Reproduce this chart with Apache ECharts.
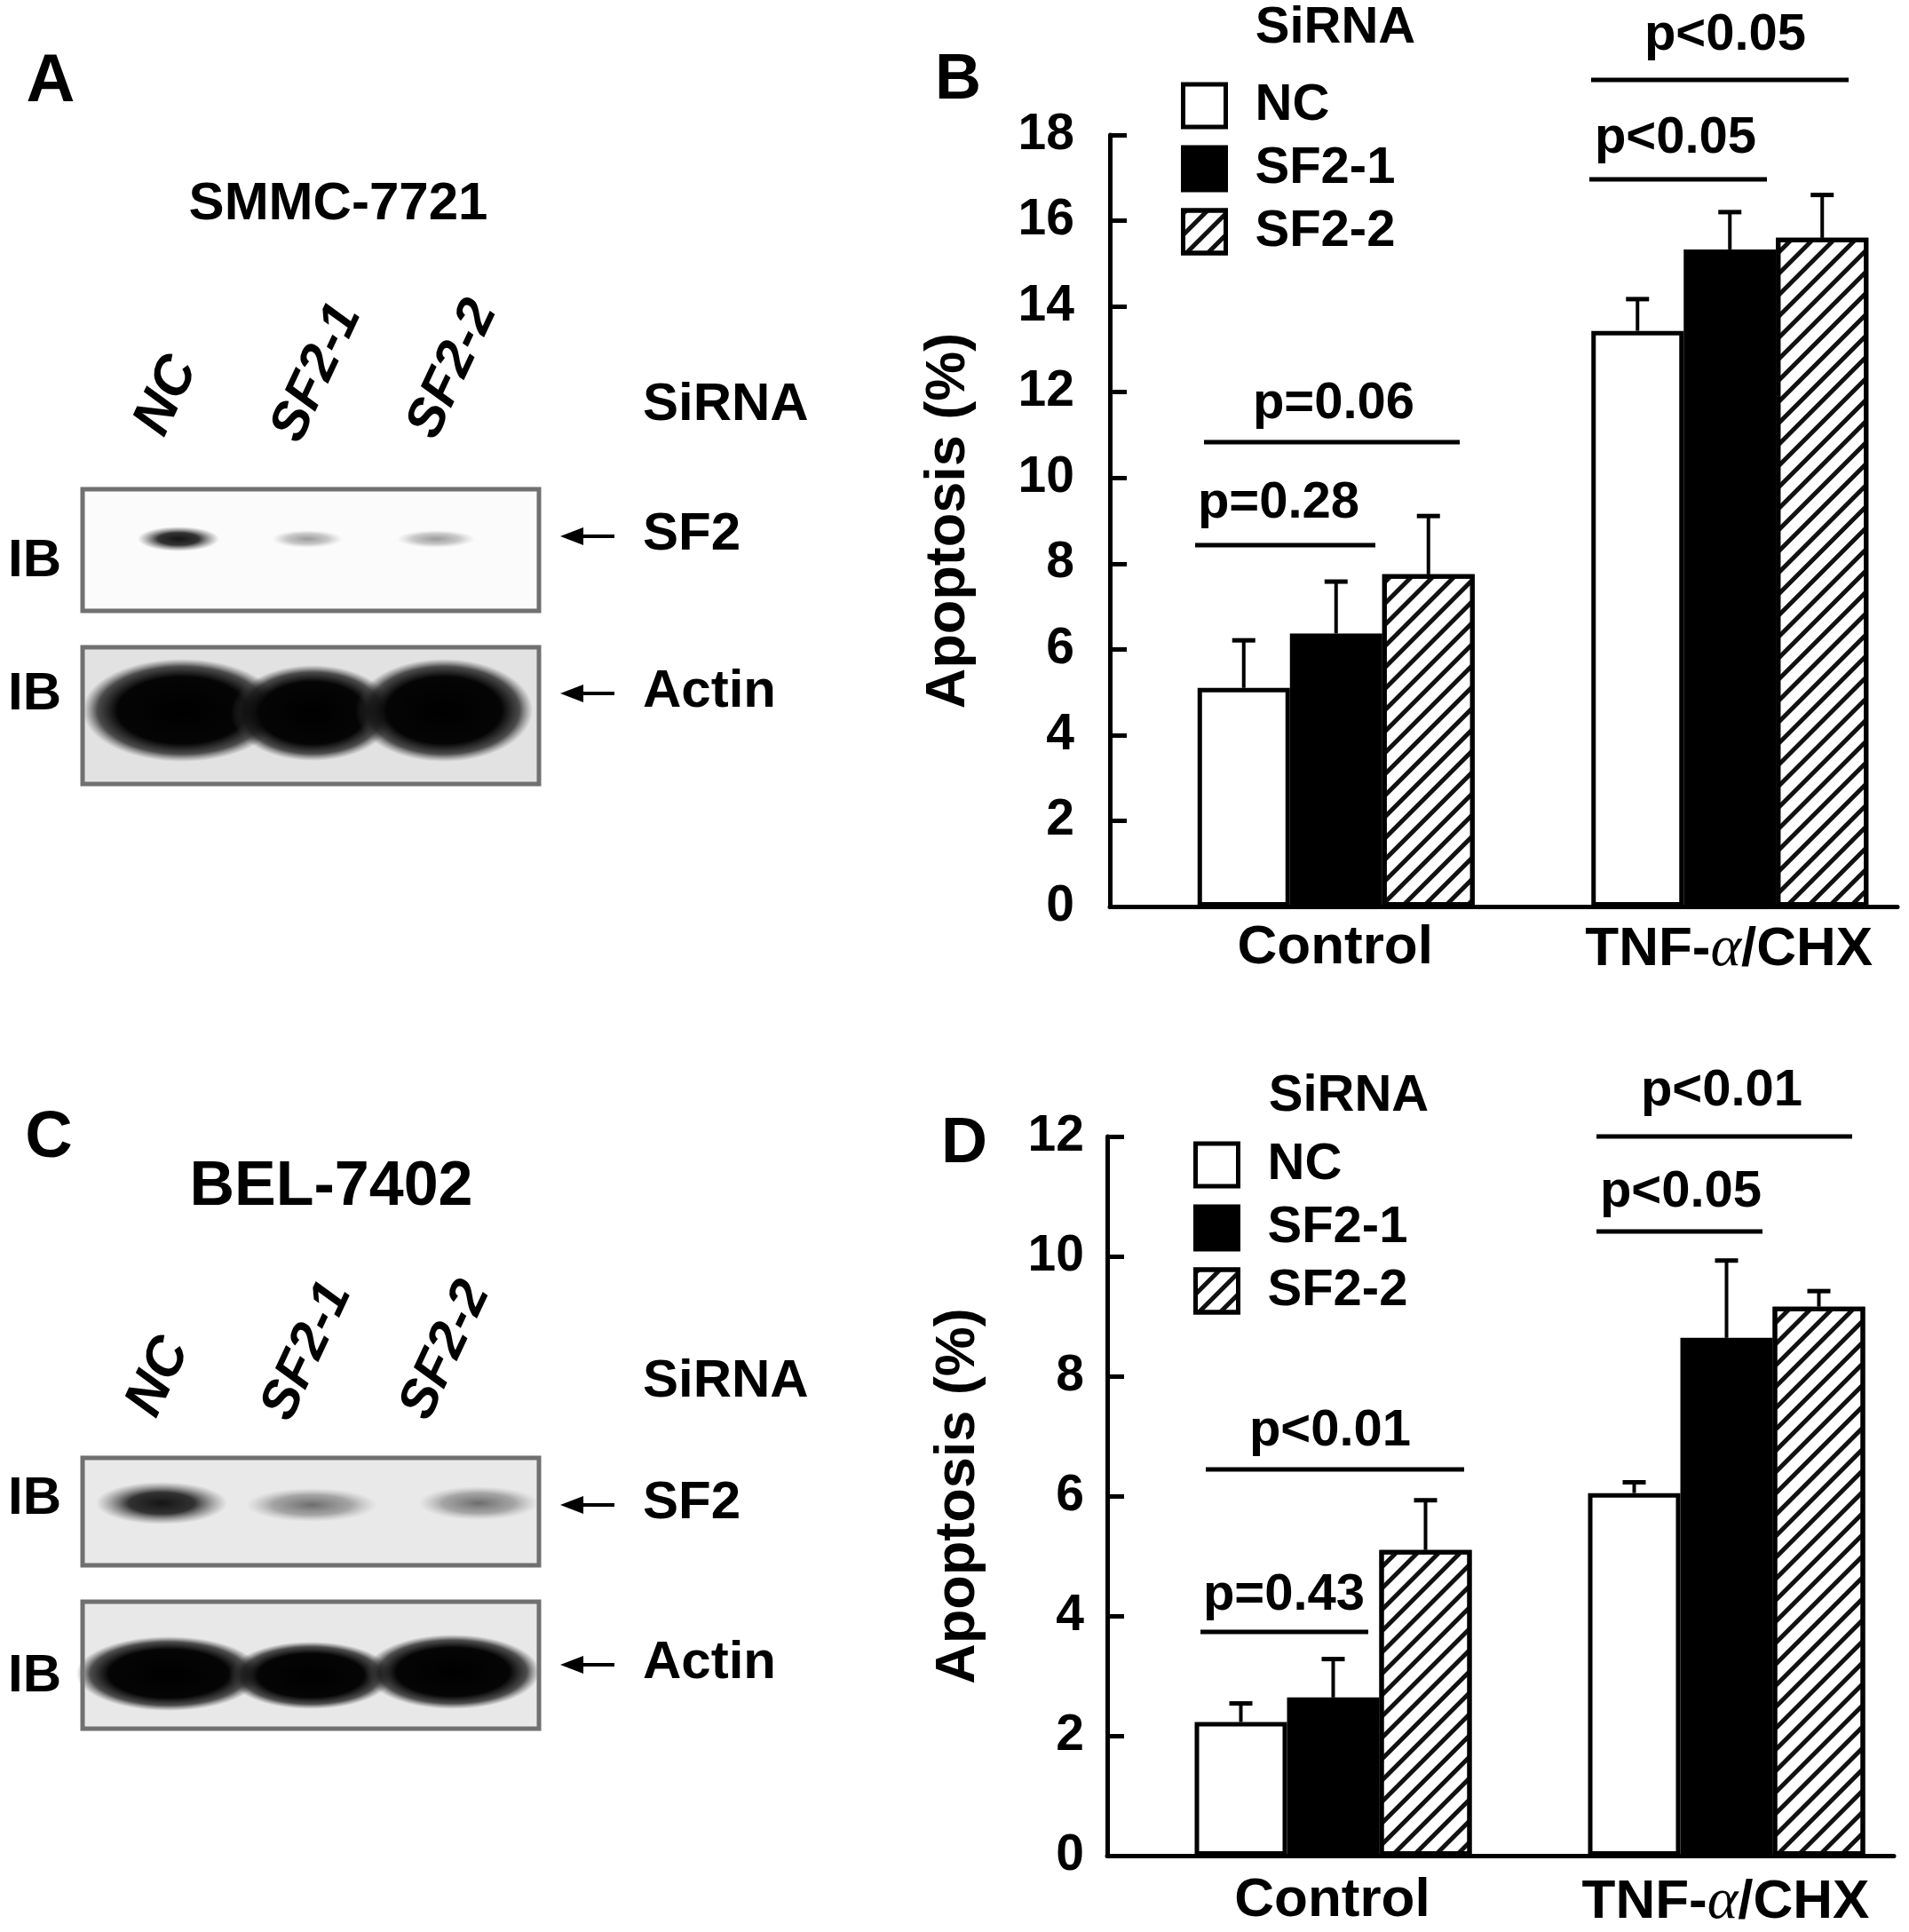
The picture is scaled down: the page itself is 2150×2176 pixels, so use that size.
<!DOCTYPE html>
<html lang="en">
<head>
<meta charset="UTF-8" />
<title>SF2 siRNA apoptosis</title>
<script src="https://cdn.jsdelivr.net/npm/echarts@6/dist/echarts.min.js"></script>
<style>
  html, body { margin: 0; padding: 0; background: #fff; }
  #main { width: 2150px; height: 2176px; }
</style>
</head>
<body>
<div id="main"></div>
<script>
  // values
  var groups = ["Control", "TNF-α/CHX"];
  var sirnas = ["NC", "SF2-1", "SF2-2"];

  // panel B (SMMC-7721): mean and SD
  var smmcNC = [5.1, 13.43];
  var smmcNCErr = [1.11, 0.74];
  var smmcSF21 = [6.37, 15.33];
  var smmcSF21Err = [1.21, 0.87];
  var smmcSF22 = [7.75, 15.6];
  var smmcSF22Err = [1.36, 1.0];

  // panel D (BEL-7402)
  var belNC = [2.23, 6.05];
  var belNCErr = [0.31, 0.18];
  var belSF21 = [2.64, 8.64];
  var belSF21Err = [0.64, 1.29];
  var belSF22 = [5.1, 9.16];
  var belSF22Err = [0.83, 0.26];

  var yMaxB = 18, yMaxD = 12, yStep = 2;

  var F = "Liberation Sans, Arial, Helvetica, sans-serif";
  var BAR_W = 104, SPACER_W = 66;

  var hatch = { symbol: "rect", symbolSize: 1, color: "#111", dashArrayX: [1, 0], dashArrayY: [5, 12], rotation: -Math.PI / 4 };
  var styles = {
    "NC": { color: "#fff", borderColor: "#000", borderWidth: 5 },
    "SF2-1": { color: "#000", borderColor: "#000", borderWidth: 5 },
    "SF2-2": { color: "#fff", borderColor: "#000", borderWidth: 5, decal: hatch }
  };

  // x offset of bar i from the category centre (spacer first, then 3 bars)
  function barOffset(i) {
    var groupW = SPACER_W + 3 * BAR_W;
    return -groupW / 2 + SPACER_W + BAR_W * (i + 0.5);
  }

  function barSeries(name, vals, gi) {
    return {
      name: name, type: "bar", xAxisIndex: gi, yAxisIndex: gi,
      barWidth: BAR_W, barGap: "0%", data: vals,
      itemStyle: styles[name], emphasis: { disabled: true }
    };
  }
  function spacer(gi) {
    return {
      name: "spacer" + gi, type: "bar", xAxisIndex: gi, yAxisIndex: gi,
      barWidth: SPACER_W, barGap: "0%", data: ["-", "-"], silent: true,
      itemStyle: { color: "rgba(0,0,0,0)" }
    };
  }
  function errSeries(i, means, errs, gi) {
    return {
      name: "err" + gi + "-" + i, type: "custom", xAxisIndex: gi, yAxisIndex: gi, z: 5,
      clip: false, silent: true,
      data: means.map(function (m, k) { return [k, m, m + errs[k]]; }),
      renderItem: function (params, api) {
        var base = api.coord([api.value(0), api.value(1)]);
        var top = api.coord([api.value(0), api.value(2)]);
        var x = base[0] + barOffset(i);
        return {
          type: "group",
          children: [
            { type: "line", shape: { x1: x, y1: base[1], x2: x, y2: top[1] }, style: { stroke: "#000", lineWidth: 4 } },
            { type: "line", shape: { x1: x - 13, y1: top[1], x2: x + 13, y2: top[1] }, style: { stroke: "#000", lineWidth: 5 } }
          ]
        };
      }
    };
  }

  function xAxisFor(gi, margin) {
    return {
      type: "category", gridIndex: gi, data: groups,
      axisLine: { lineStyle: { color: "#000", width: 5 } },
      axisTick: { show: false },
      axisLabel: {
        interval: 0, hideOverlap: false,
        color: "#000", fontSize: 62, fontWeight: "bold", fontFamily: F, margin: margin,
        padding: [0, 0, 0, 64],
        formatter: function (v) { return v.replace("α", "{a|α}"); },
        rich: { a: { fontFamily: "Liberation Serif, Times New Roman, serif", fontStyle: "italic", fontWeight: "normal", fontSize: 66, color: "#000" } }
      }
    };
  }
  function yAxisFor(gi, max, margin, gap) {
    return {
      type: "value", gridIndex: gi, min: 0, max: max, interval: yStep,
      axisLine: { show: true, lineStyle: { color: "#000", width: 5 } },
      axisTick: { show: true, inside: true, length: 19, lineStyle: { color: "#000", width: 5 } },
      splitLine: { show: false },
      axisLabel: { color: "#000", fontSize: 57, fontWeight: "bold", fontFamily: F, margin: margin },
      name: "Apoptosis (%)", nameLocation: "middle", nameGap: gap,
      nameTextStyle: { color: "#000", fontSize: 63, fontWeight: "bold", fontFamily: F }
    };
  }
  function legendFor(left, top, gap) {
    return {
      orient: "vertical", left: left, top: top, itemWidth: 48, itemHeight: 48, itemGap: gap,
      selectedMode: false, data: sirnas, icon: "rect",
      itemStyle: { borderColor: "#000", borderWidth: 5 },
      textStyle: { color: "#000", fontSize: 58, fontWeight: "bold", fontFamily: F, lineHeight: 48, padding: [0, 0, 0, 28] }
    };
  }

  // ---- graphic helpers (blots, annotation text) ----
  function txt(x, y, s, size, opt) {
    opt = opt || {};
    return {
      type: "text", x: x, y: y, rotation: opt.rotation || 0,
      style: {
        text: s, fill: "#000", fontSize: size, fontWeight: "bold", fontFamily: F,
        fontStyle: opt.italic ? "italic" : "normal",
        align: opt.align || "center", verticalAlign: "middle",
        textAlign: opt.align || "center", textVerticalAlign: "middle"
      }
    };
  }
  function hline(x1, x2, y) {
    return { type: "line", shape: { x1: x1, y1: y, x2: x2, y2: y }, style: { stroke: "#000", lineWidth: 5 } };
  }
  function arrow(x1, x2, y) {
    return [
      { type: "line", shape: { x1: x1 + 16, y1: y, x2: x2, y2: y }, style: { stroke: "#000", lineWidth: 4 } },
      { type: "polygon", shape: { points: [[x1, y], [x1 + 26, y - 10], [x1 + 26, y + 10]] }, style: { fill: "#000" } }
    ];
  }
  function band(cx, cy, rx, ry, stops) {
    return {
      type: "circle", x: cx, y: cy, scaleX: rx / ry, shape: { cx: 0, cy: 0, r: ry },
      style: { fill: new echarts.graphic.RadialGradient(0.5, 0.5, 0.5, stops) }
    };
  }
  function boxFill(x, y, w, h, fill) {
    return { type: "rect", shape: { x: x, y: y, width: w, height: h }, style: { fill: fill } };
  }
  function boxEdge(x, y, w, h) {
    return { type: "rect", z: 10, shape: { x: x, y: y, width: w, height: h }, style: { fill: "none", stroke: "#707070", lineWidth: 5 } };
  }

  var dark = [
    { offset: 0, color: "#000" }, { offset: 0.65, color: "#050505" },
    { offset: 0.85, color: "rgba(25,25,25,0.75)" }, { offset: 1, color: "rgba(70,70,70,0)" }
  ];
  var strong = [
    { offset: 0, color: "#151515" }, { offset: 0.5, color: "rgba(30,30,30,0.9)" },
    { offset: 1, color: "rgba(90,90,90,0)" }
  ];
  var faint = [
    { offset: 0, color: "rgba(130,130,130,0.8)" }, { offset: 0.6, color: "rgba(150,150,150,0.5)" },
    { offset: 1, color: "rgba(180,180,180,0)" }
  ];
  var medium = [
    { offset: 0, color: "rgba(95,95,95,0.9)" }, { offset: 0.6, color: "rgba(120,120,120,0.6)" },
    { offset: 1, color: "rgba(160,160,160,0)" }
  ];
  var rot = 65 * Math.PI / 180;

  var graphics = [].concat(
    // panel A
    [
      txt(57, 93, "A", 76),
      txt(381, 230, "SMMC-7721", 60),
      txt(188, 446, "NC", 62, { rotation: rot, italic: true }),
      txt(357, 420, "SF2-1", 60, { rotation: rot, italic: true }),
      txt(510, 416, "SF2-2", 60, { rotation: rot, italic: true }),
      txt(724, 456, "SiRNA", 60, { align: "left" }),
      txt(39, 632, "IB", 60), txt(39, 782, "IB", 60),
      txt(724, 602, "SF2", 60, { align: "left" }),
      txt(724, 779, "Actin", 60, { align: "left" }),
      boxFill(93, 551, 514, 137, "#fbfbfb"),
      band(201, 607, 46, 14, strong),
      band(346, 607, 40, 10, faint),
      band(491, 607, 44, 10, faint),
      boxEdge(93, 551, 514, 137),
      boxFill(93, 729, 514, 154, "#e2e2e2"),
      band(205, 800, 112, 58, dark),
      band(352, 803, 92, 54, dark),
      band(500, 800, 100, 58, dark),
      boxEdge(93, 729, 514, 154)
    ],
    arrow(631, 692, 604), arrow(631, 692, 781),
    // panel C
    [
      txt(55, 1283, "C", 74),
      txt(373, 1338, "BEL-7402", 70),
      txt(179, 1551, "NC", 62, { rotation: rot, italic: true }),
      txt(346, 1522, "SF2-1", 60, { rotation: rot, italic: true }),
      txt(502, 1521, "SF2-2", 60, { rotation: rot, italic: true }),
      txt(724, 1556, "SiRNA", 60, { align: "left" }),
      txt(39, 1688, "IB", 60), txt(39, 1888, "IB", 60),
      txt(724, 1693, "SF2", 60, { align: "left" }),
      txt(724, 1873, "Actin", 60, { align: "left" }),
      boxFill(93, 1642, 514, 121, "#e9e9e9"),
      band(182, 1693, 74, 24, strong),
      band(351, 1695, 74, 19, medium),
      band(539, 1693, 68, 19, medium),
      boxEdge(93, 1642, 514, 121),
      boxFill(93, 1804, 514, 143, "#e8e8e8"),
      band(190, 1885, 104, 42, dark),
      band(350, 1887, 92, 38, dark),
      band(510, 1883, 98, 42, dark),
      boxEdge(93, 1804, 514, 143)
    ],
    arrow(631, 692, 1695), arrow(631, 692, 1875),
    // panel B annotations
    [
      txt(1079, 91, "B", 72),
      txt(1504, 32, "SiRNA", 58),
      txt(1943, 40, "p<0.05", 58), hline(1792, 2082, 90),
      txt(1887, 156, "p<0.05", 58), hline(1790, 1990, 202),
      txt(1502, 455, "p=0.06", 58), hline(1356, 1644, 498),
      txt(1440, 567, "p=0.28", 58), hline(1346, 1549, 614)
    ],
    // panel D annotations
    [
      txt(1086, 1289, "D", 72),
      txt(1519, 1235, "SiRNA", 58),
      txt(1939, 1229, "p<0.01", 58), hline(1798, 2086, 1280),
      txt(1893, 1343, "p<0.05", 58), hline(1798, 1985, 1387),
      txt(1498, 1612, "p<0.01", 58), hline(1358, 1649, 1655),
      txt(1446, 1797, "p=0.43", 58), hline(1352, 1541, 1838)
    ]
  );

  var chart = echarts.init(document.getElementById("main"));
  var option = {
    animation: false,
    backgroundColor: "#fff",
    grid: [
      { left: 1250, top: 152, width: 887, height: 869 },
      { left: 1247, top: 1280, width: 886, height: 817 }
    ],
    xAxis: [xAxisFor(0, 16), xAxisFor(1, 20)],
    yAxis: [yAxisFor(0, yMaxB, 40, 150), yAxisFor(1, yMaxD, 26, 136)],
    legend: [legendFor(1325, 85, 13), legendFor(1339, 1278, 13)],
    series: [
      spacer(0),
      barSeries("NC", smmcNC, 0),
      barSeries("SF2-1", smmcSF21, 0),
      barSeries("SF2-2", smmcSF22, 0),
      errSeries(0, smmcNC, smmcNCErr, 0),
      errSeries(1, smmcSF21, smmcSF21Err, 0),
      errSeries(2, smmcSF22, smmcSF22Err, 0),
      spacer(1),
      barSeries("NC", belNC, 1),
      barSeries("SF2-1", belSF21, 1),
      barSeries("SF2-2", belSF22, 1),
      errSeries(0, belNC, belNCErr, 1),
      errSeries(1, belSF21, belSF21Err, 1),
      errSeries(2, belSF22, belSF22Err, 1)
    ],
    graphic: graphics
  };
  chart.setOption(option);
</script>
</body>
</html>
